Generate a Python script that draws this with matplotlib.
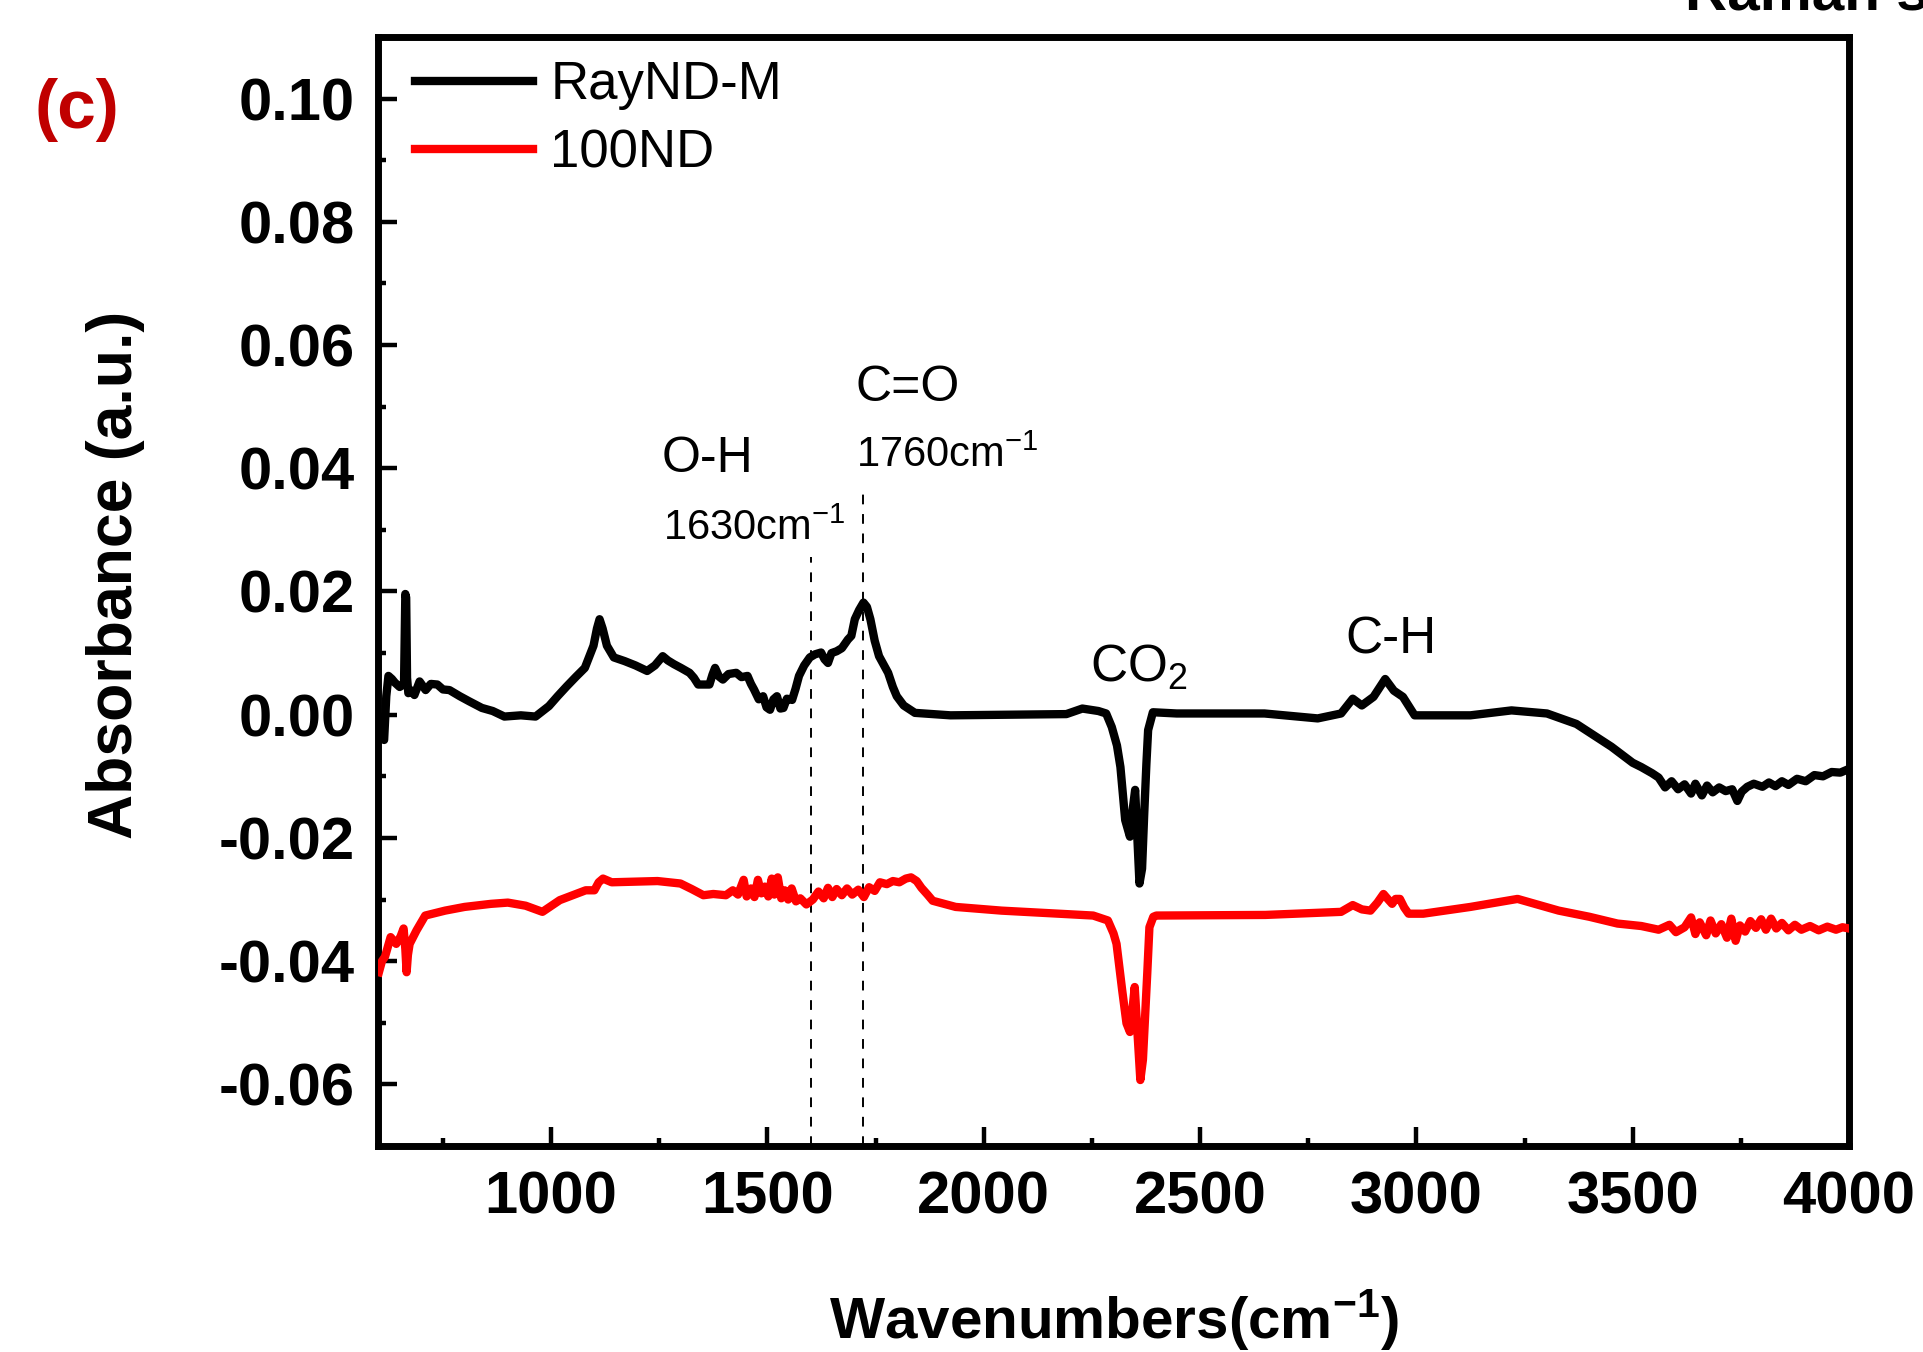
import numpy as np
import matplotlib
matplotlib.use('Agg')
import matplotlib.pyplot as plt
from matplotlib.ticker import MultipleLocator, FormatStrFormatter

plt.rcParams['font.family'] = ['Liberation Sans', 'DejaVu Sans']
plt.rcParams['axes.unicode_minus'] = False
plt.rcParams['mathtext.fontset'] = 'custom'
plt.rcParams['mathtext.rm'] = 'Liberation Sans'
plt.rcParams['mathtext.it'] = 'Liberation Sans:italic'
plt.rcParams['mathtext.bf'] = 'Liberation Sans:bold'
plt.rcParams['mathtext.default'] = 'regular'

# RayND-M (black)
raynd_x = [603, 608, 614, 619, 624, 632, 639, 650, 660, 663, 665, 667, 670, 675, 684, 696, 710,
           722, 737, 750, 765, 789, 810, 840, 865, 892, 930, 964, 995, 1015, 1036, 1058, 1078,
           1098, 1106, 1112, 1119, 1129, 1145, 1170, 1195, 1222, 1240, 1258, 1270, 1284, 1300,
           1320, 1330, 1340, 1366, 1373, 1379, 1388, 1397, 1410, 1428, 1440, 1454, 1462, 1469,
           1480, 1490, 1498, 1506, 1514, 1522, 1530, 1537, 1545, 1557, 1565, 1573, 1585, 1598,
           1610, 1624, 1632, 1640, 1648, 1660, 1672, 1686, 1694, 1702, 1712, 1722, 1730, 1738,
           1748, 1758, 1768, 1779, 1790, 1799, 1815, 1841, 1923, 2050, 2191, 2228, 2265, 2283,
           2296, 2308, 2316, 2327, 2338, 2345, 2350, 2355, 2360, 2366, 2371, 2376, 2380, 2391,
           2446, 2649, 2772, 2826, 2853, 2874, 2901, 2928, 2948, 2969, 2996, 3125, 3220, 3302,
           3370, 3451, 3500, 3520, 3545, 3560, 3575, 3590, 3605, 3620, 3635, 3645, 3660, 3672,
           3685, 3700, 3715, 3730, 3742, 3752, 3765, 3780, 3800, 3815, 3830, 3845, 3860, 3880,
           3900, 3920, 3940, 3960, 3980, 4000]
raynd_y = [-0.0010, -0.0030, -0.0041, 0.0030, 0.0063, 0.0058, 0.0052, 0.0045, 0.0050, 0.0196,
           0.0190, 0.0060, 0.0035, 0.0040, 0.0032, 0.0054, 0.0040, 0.0050, 0.0049, 0.0041,
           0.0040, 0.0030, 0.0022, 0.0011, 0.0006, -0.0003, -0.0001, -0.0003, 0.0014, 0.0030,
           0.0046, 0.0062, 0.0076, 0.0112, 0.0140, 0.0155, 0.0140, 0.0112, 0.0093, 0.0087,
           0.0080, 0.0071, 0.0080, 0.0095, 0.0088, 0.0082, 0.0076, 0.0068, 0.0060, 0.0049,
           0.0049, 0.0065, 0.0076, 0.0062, 0.0057, 0.0066, 0.0068, 0.0061, 0.0063, 0.0050,
           0.0041, 0.0025, 0.0030, 0.0012, 0.0008, 0.0025, 0.0030, 0.0010, 0.0011, 0.0026,
           0.0024, 0.0042, 0.0063, 0.0080, 0.0093, 0.0098, 0.0101, 0.0090, 0.0084, 0.0100,
           0.0103, 0.0108, 0.0122, 0.0128, 0.0155, 0.0170, 0.0182, 0.0175, 0.0155, 0.0120,
           0.0095, 0.0082, 0.0068, 0.0045, 0.0030, 0.0015, 0.0003, -0.0001, 0.0000, 0.0001,
           0.0010, 0.0006, 0.0002, -0.0020, -0.0050, -0.0085, -0.0171, -0.0198, -0.0150,
           -0.0122, -0.0200, -0.0274, -0.0250, -0.0161, -0.0080, -0.0025, 0.0004, 0.0002,
           0.0002, -0.0006, 0.0002, 0.0026, 0.0015, 0.0029, 0.0058, 0.0039, 0.0029, -0.0001,
           -0.0001, 0.0007, 0.0002, -0.0015, -0.0052, -0.0078, -0.0085, -0.0095, -0.0102,
           -0.0118, -0.0108, -0.0121, -0.0113, -0.0128, -0.0112, -0.0131, -0.0115, -0.0126,
           -0.0118, -0.0124, -0.0121, -0.0140, -0.0125, -0.0117, -0.0112, -0.0117, -0.0110,
           -0.0116, -0.0108, -0.0114, -0.0104, -0.0108, -0.0098, -0.0100, -0.0093, -0.0094,
           -0.0088]

# 100ND (red)
nd_x = [602, 609, 616, 629, 642, 652, 659, 663, 666, 669, 673, 689, 709, 755, 800, 861, 900,
        941, 980, 1020, 1050, 1080, 1100, 1110, 1120, 1140, 1190, 1246, 1299, 1325, 1352,
        1375, 1404, 1420, 1432, 1445, 1452, 1462, 1470, 1478, 1486, 1494, 1502, 1510, 1516,
        1524, 1532, 1540, 1548, 1556, 1566, 1576, 1590, 1605, 1618, 1630, 1640, 1650, 1660,
        1672, 1684, 1696, 1710, 1723, 1735, 1748, 1760, 1776, 1790, 1805, 1820, 1832, 1845,
        1856, 1870, 1882, 1935, 2041, 2174, 2253, 2287, 2300, 2307, 2320, 2330, 2338, 2345,
        2349, 2354, 2362, 2368, 2373, 2378, 2383, 2392, 2399, 2651, 2826, 2853, 2874, 2894,
        2910, 2924, 2935, 2944, 2952, 2962, 2972, 2982, 3016, 3125, 3234, 3329, 3400, 3465,
        3520, 3560, 3585, 3600, 3620, 3635, 3645, 3655, 3670, 3680, 3692, 3705, 3718, 3728,
        3738, 3748, 3760, 3772, 3785, 3797, 3808, 3820, 3832, 3845, 3860, 3875, 3890, 3910,
        3930, 3950, 3970, 3985, 4000]
nd_y = [-0.0418, -0.0400, -0.0393, -0.0361, -0.0372, -0.0360, -0.0347, -0.0380, -0.0418,
        -0.0390, -0.0372, -0.0350, -0.0326, -0.0318, -0.0312, -0.0307, -0.0305, -0.0310,
        -0.0320, -0.0301, -0.0293, -0.0285, -0.0285, -0.0272, -0.0266, -0.0272, -0.0271,
        -0.0270, -0.0274, -0.0283, -0.0293, -0.0291, -0.0293, -0.0285, -0.0292, -0.0268,
        -0.0295, -0.0282, -0.0296, -0.0268, -0.0290, -0.0279, -0.0295, -0.0266, -0.0292,
        -0.0264, -0.0298, -0.0285, -0.0300, -0.0282, -0.0303, -0.0298, -0.0308, -0.0300,
        -0.0287, -0.0298, -0.0281, -0.0296, -0.0283, -0.0293, -0.0282, -0.0292, -0.0284,
        -0.0296, -0.0280, -0.0286, -0.0272, -0.0275, -0.0270, -0.0272, -0.0266, -0.0264,
        -0.0270, -0.0281, -0.0292, -0.0302, -0.0312, -0.0318, -0.0323, -0.0326, -0.0334,
        -0.0355, -0.0372, -0.0447, -0.0501, -0.0515, -0.0470, -0.0442, -0.0500, -0.0593,
        -0.0560, -0.0491, -0.0420, -0.0345, -0.0328, -0.0326, -0.0325, -0.0320, -0.0309,
        -0.0316, -0.0318, -0.0305, -0.0291, -0.0300, -0.0307, -0.0299, -0.0299, -0.0313,
        -0.0323, -0.0323, -0.0312, -0.0299, -0.0318, -0.0328, -0.0339, -0.0343, -0.0349,
        -0.0341, -0.0353, -0.0345, -0.0329, -0.0356, -0.0337, -0.0358, -0.0334, -0.0355,
        -0.0340, -0.0362, -0.0331, -0.0367, -0.0342, -0.0352, -0.0335, -0.0346, -0.0332,
        -0.0349, -0.0331, -0.0347, -0.0338, -0.0350, -0.0341, -0.0349, -0.0343, -0.0350,
        -0.0344, -0.0349, -0.0345, -0.0347]

# guide lines (drawn position, top end)
guide_x = [1601, 1721]
guide_top = [0.0256, 0.0372]

fig = plt.figure(figsize=(19.23, 13.52), dpi=100)
ax = fig.add_axes([0.1966, 0.1524, 0.7649, 0.8202])

ax.plot(raynd_x, raynd_y, color='black', lw=6, solid_joinstyle='round', label='RayND-M', zorder=3)
ax.plot(nd_x, nd_y, color='#ff0000', lw=6, solid_joinstyle='round', label='100ND', zorder=3)

for gx, gt in zip(guide_x, guide_top):
    ax.plot([gx, gx], [-0.07, gt], color='black', lw=1.4, ls=(0, (5, 5)), zorder=2)

ax.set_xlim(600, 4000)
ax.set_ylim(-0.07, 0.11)
ax.xaxis.set_major_locator(MultipleLocator(500))
ax.xaxis.set_minor_locator(MultipleLocator(250))
ax.yaxis.set_major_locator(MultipleLocator(0.02))
ax.yaxis.set_minor_locator(MultipleLocator(0.01))
ax.yaxis.set_major_formatter(FormatStrFormatter('%.2f'))
ax.xaxis.set_major_formatter(FormatStrFormatter('%d'))

for s in ax.spines.values():
    s.set_linewidth(5)
ax.tick_params(which='major', direction='in', length=14, width=3.2)
ax.tick_params(which='minor', direction='in', length=6, width=3.2)
ax.tick_params(axis='x', which='major', pad=18, labelsize=43)
ax.tick_params(axis='y', which='major', pad=17, labelsize=43)
for lab in ax.get_xticklabels() + ax.get_yticklabels():
    lab.set_fontweight('bold')

ax.set_xlabel('Wavenumbers(cm$^{-1}$)', fontsize=42, fontweight='bold', va='baseline')
ax.xaxis.set_label_coords(0.5, -0.173)
ax.set_ylabel('Absorbance (a.u.)', fontsize=45, fontweight='bold', va='baseline')
ax.yaxis.set_label_coords(-0.167, 0.515)

ax.legend(loc='upper left', bbox_to_anchor=(0.0248, 0.979), frameon=False, fontsize=38,
          handlelength=2.25, handletextpad=0.32, labelspacing=0.34, borderaxespad=0, borderpad=0)

ax.text(1256, 0.0394, 'O-H', fontsize=36, ha='left', va='baseline')
ax.text(1259, 0.0283, '1630cm$^{-1}$', fontsize=30, ha='left', va='baseline')
ax.text(1703, 0.0510, 'C=O', fontsize=36, ha='left', va='baseline')
ax.text(1705, 0.0402, '1760cm$^{-1}$', fontsize=30, ha='left', va='baseline')
ax.text(2246, 0.0053, 'CO$_2$', fontsize=37, ha='left', va='baseline')
ax.text(2835, 0.0100, 'C-H', fontsize=37, ha='left', va='baseline')

fig.text(0.040, 0.9186, '(c)', color='#c00000', fontsize=50, fontweight='bold', ha='center', va='center')
fig.text(1685 / 1923, 1 - 10 / 1352, 'Raman shift', fontsize=42, fontweight='bold', ha='left', va='baseline')

fig.savefig('out.png', dpi=100)
